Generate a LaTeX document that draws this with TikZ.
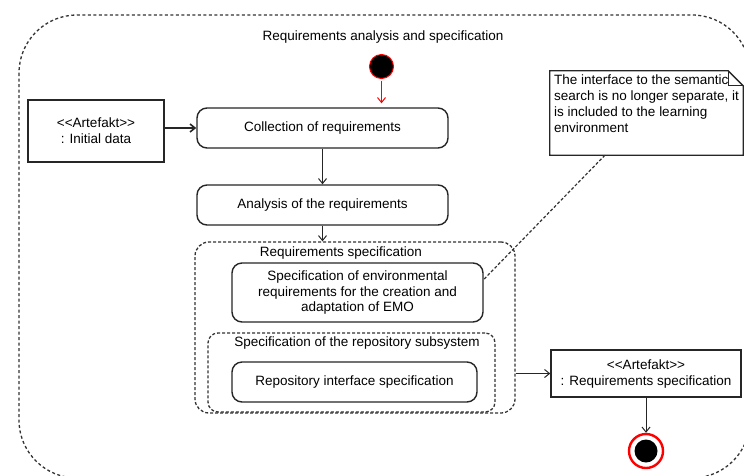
\documentclass[tikz,border=0pt]{standalone}
\usepackage{fontspec}
\setmainfont{Liberation Sans}
\usetikzlibrary{arrows.meta,calc}
\tikzset{
  base/.style={font=\fontsize{13.5}{16}\selectfont},
  action/.style={draw=black!85, line width=1.4pt, rounded corners=10pt, align=center, inner sep=0pt},
  artefact/.style={draw=black!85, line width=1.4pt, align=center, inner sep=0pt},
  group/.style={draw=black!80, line width=1.3pt, dash pattern=on 3pt off 2pt, rounded corners=14pt, inner sep=0pt},
  outer/.style={draw=black!80, line width=1.3pt, dash pattern=on 3pt off 2.5pt, rounded corners=58pt},
  arr/.style={draw=black!85, line width=1pt, -{Straight Barb[length=5pt,width=8pt]}},
  redarr/.style={draw=red, line width=1pt, -{Straight Barb[length=5pt,width=8pt]}},
  noteline/.style={draw=black!80, line width=1.2pt, dash pattern=on 3pt off 2pt},
  lbl/.style={inner sep=0pt}
}
\begin{document}
\begin{tikzpicture}[x=1pt,y=-1pt,base]
\useasboundingbox (0,0) rectangle (744,475);
\clip (0,0) rectangle (744,475);
\fill[white] (0,0) rectangle (744,475);
% outer frame
\draw[outer] (19,15) rectangle (750,478);
\node[lbl] (title) at (383,37) {Requirements analysis and specification};
% groups
\node[group, minimum width=320, minimum height=171] (reqspec) at (355,327.5) {};
\node[lbl] (reqspeclbl) at (341,253) {Requirements specification};
\node[group, rounded corners=10pt, minimum width=287, minimum height=79] (repogrp) at (351.5,372.5) {};
\node[lbl] (repolbl) at (357,343) {Specification of the repository subsystem};
% start
\node[circle, fill=black, draw=red, line width=1pt, minimum size=24, inner sep=0pt] (start) at (381.5,66.5) {};
% actions
\node[action, minimum width=251, minimum height=40] (coll) at (322.5,128) {Collection of requirements};
\node[action, minimum width=251, minimum height=40] (anal) at (322.5,205) {Analysis of the requirements};
\node[action, minimum width=251, minimum height=59] (env) at (357.5,292.5) {Specification of environmental\\requirements for the creation and\\adaptation of EMO};
\node[action, minimum width=245, minimum height=40] (repoint) at (354.5,382) {Repository interface specification};
% artefacts
\node[artefact, minimum width=136, minimum height=62] (init) at (96,131) {<{}<Artefakt>{}>\\: Initial data};
\node[artefact, minimum width=190, minimum height=47] (artreq) at (646,373.5) {<{}<Artefakt>{}>\\: Requirements specification};
% end
\node[circle, draw=red, line width=2.4pt, fill=white, minimum size=34, inner sep=0pt] (end) at (646,451) {};
\node[circle, fill=black, minimum size=23, inner sep=0pt] (endin) at (end.center) {};
% note
\node[minimum width=193, minimum height=84, inner sep=0pt] (note) at (646.5,113) {};
\draw[draw=black!85, line width=1.3pt, fill=white]
  (note.north west) -- ([xshift=-15pt]note.north east) -- ([yshift=-15pt]note.north east)
  -- (note.south east) -- (note.south west) -- cycle;
\draw[draw=black!85, line width=1pt] ([xshift=-15pt]note.north east) -- ([xshift=-15pt,yshift=-15pt]note.north east) -- ([yshift=-15pt]note.north east);
\node[lbl, anchor=north west, align=left] (notetext) at (554,75) {The interface to the semantic\\search is no longer separate, it\\is included to the learning\\environment};
% connectors
\draw[redarr] ([yshift=-2pt]start.south) -- ([yshift=4pt]start |- coll.north);
\draw[arr, line width=1.6pt] (init.east |- coll.west) -- (coll.west);
\draw[arr] (coll) -- (anal);
\draw[arr] (anal) -- (anal |- reqspec.north);
\draw[arr] (reqspec.east |- artreq.west) -- (artreq.west);
\draw[arr] (artreq) -- (end);
\draw[noteline] ($(note.south west)!0.285!(note.south east)$) -- ([yshift=13pt]env.east);
\end{tikzpicture}
\end{document}
